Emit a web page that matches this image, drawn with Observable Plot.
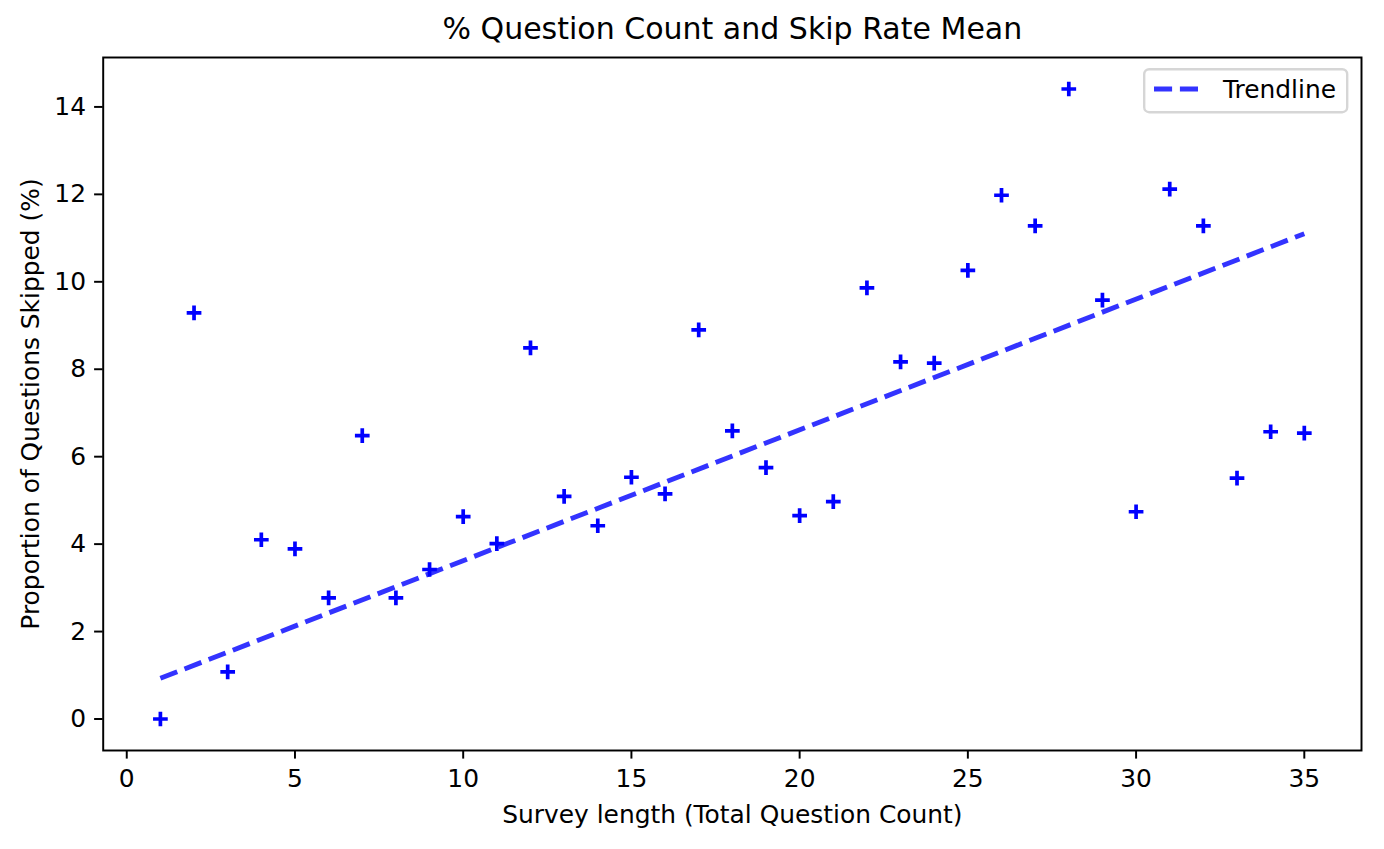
<!DOCTYPE html>
<html><head><meta charset="utf-8">
<script src="https://cdn.jsdelivr.net/npm/d3@7"></script>
<script src="https://cdn.jsdelivr.net/npm/@observablehq/plot@0.6"></script>
<style>
body{margin:0;background:#fff;font-family:"DejaVu Sans",sans-serif;}
#wrap{position:relative;width:1384px;height:849px;}
#legend{position:absolute;left:1143px;top:68px;}
</style></head><body><div id="wrap"></div>
<script>
// ---- data ----
const surveyLength = [1,2,3,4,5,6,7,8,9,10,11,12,13,14,15,16,17,18,19,20,21,22,23,24,25,26,27,28,29,30,31,32,33,34,35];
const skipRate = [0.00,9.29,1.08,4.10,3.89,2.77,6.48,2.77,3.42,4.63,4.01,8.49,5.09,4.42,5.53,5.15,8.90,6.59,5.75,4.65,4.97,9.86,8.17,8.14,10.26,11.98,11.28,14.41,9.58,4.74,12.12,11.28,5.51,6.57,6.54];
const trendX = [1, 35];
const trendY = [0.93, 11.10];
const xTicks = [0,5,10,15,20,25,30,35];
const yTicks = [0,2,4,6,8,10,12,14];
const titleText = "% Question Count and Skip Rate Mean";
const xLabel = "Survey length (Total Question Count)";
const yLabel = "Proportion of Questions Skipped (%)";
const legendLabel = "Trendline";

const points = surveyLength.map((x, i) => ({x, y: skipRate[i]}));
const trend = trendX.map((x, i) => ({x, y: trendY[i]}));

// matplotlib-like 5% margins
function pad(ext){ const d = (ext[1]-ext[0])*0.05; return [ext[0]-d, ext[1]+d]; }
const xDom = pad(d3.extent(surveyLength));
const yDom = pad(d3.extent(skipRate));

const plusSymbol = {
  draw(context, size) {
    const r = Math.sqrt(size / Math.PI);
    context.moveTo(-r, 0); context.lineTo(r, 0);
    context.moveTo(0, -r); context.lineTo(0, r);
  }
};

const FS = 24.9;
const chart = Plot.plot({
  width: 1384,
  height: 849,
  marginLeft: 102.7,
  marginRight: 23,
  marginTop: 57,
  marginBottom: 99,
  style: {fontFamily: "DejaVu Sans, sans-serif", fontSize: FS + "px", background: "white", color: "black"},
  x: {domain: xDom},
  y: {domain: yDom},
  marks: [
    Plot.dot(points, {x: "x", y: "y", symbol: plusSymbol, r: 7.35, fill: "none", stroke: "#0000ff", strokeWidth: 3.7}),
    Plot.line(trend, {x: "x", y: "y", stroke: "#0000ff", strokeOpacity: 0.8, strokeWidth: 4.9, strokeDasharray: "18.1,7.8", strokeLinecap: "butt"}),
    Plot.frame({stroke: "black", strokeWidth: 1.96}),
    Plot.axisX({ticks: xTicks, tickSize: 8.6, tickPadding: 10.5, strokeWidth: 1.96, fontSize: FS, label: null, tickFormat: d => String(d)}),
    Plot.axisY({ticks: yTicks, tickSize: 8.6, tickPadding: 8.6, strokeWidth: 1.96, fontSize: FS, label: null, tickFormat: d => String(d)}),
    Plot.text([titleText], {frameAnchor: "top", dy: -19, lineAnchor: "bottom", textAnchor: "middle", fontSize: 30, fill: "black", text: d => d}),
    Plot.text([xLabel], {frameAnchor: "bottom", dy: 72, lineAnchor: "bottom", textAnchor: "middle", fontSize: FS, fill: "black", text: d => d}),
    Plot.text([yLabel], {frameAnchor: "left", dx: -64.7, rotate: -90, lineAnchor: "bottom", textAnchor: "middle", fontSize: FS, fill: "black", text: d => d})
  ]
});
const wrap = document.getElementById("wrap");
wrap.appendChild(chart);

// legend overlay
const ns = "http://www.w3.org/2000/svg";
const lg = document.createElementNS(ns, "svg");
lg.setAttribute("id", "legend");
lg.setAttribute("width", 206);
lg.setAttribute("height", 46);
lg.innerHTML = `
  <rect x="1.2" y="1.2" width="203" height="43" rx="5" ry="5" fill="white" fill-opacity="0.8" stroke="#d6d6d6" stroke-width="2.4"></rect>
  <line x1="11" x2="57" y1="21" y2="21" stroke="#0000ff" stroke-opacity="0.8" stroke-width="4.9" stroke-dasharray="18.1,7.8"></line>
  <text x="80" y="30.3" font-family="DejaVu Sans, sans-serif" font-size="${FS}" fill="black">${legendLabel}</text>`;
wrap.appendChild(lg);
</script></body></html>
